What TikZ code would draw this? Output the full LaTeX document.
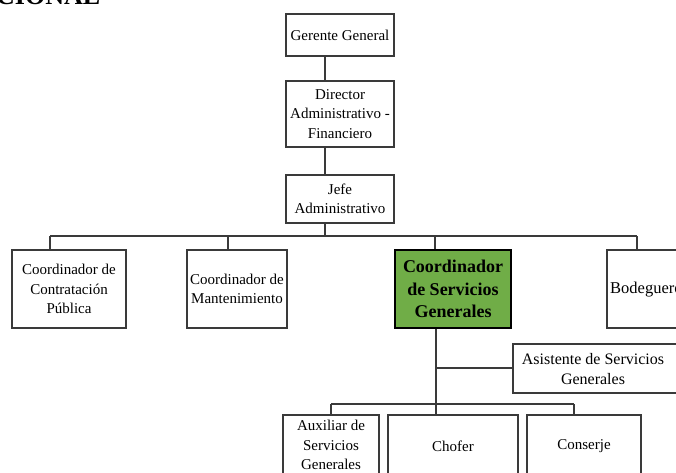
\documentclass[tikz,border=0pt]{standalone}
\usepackage{fontspec}
\setmainfont{Liberation Serif}
\definecolor{linegray}{HTML}{3A3A3A}
\definecolor{coordgreen}{HTML}{70AD47}
\tikzset{
  orgbox/.style={draw=linegray, line width=1.3pt, fill=white, inner sep=0pt,
    align=center, font=\fontsize{15}{19.5}\selectfont},
  keybox/.style={draw=black, line width=1.8pt, fill=coordgreen, inner sep=0pt,
    align=center, font=\fontsize{18}{22.5}\selectfont\bfseries},
  boxtext/.style={inner sep=0pt, align=center, font=\fontsize{15}{19.5}\selectfont},
  link/.style={draw=linegray, line width=1.3pt},
}
\begin{document}
\begin{tikzpicture}[x=1pt,y=1pt]
\useasboundingbox (0,0) rectangle (676,-472);

% heading, mostly above the page
\node[anchor=base west, inner sep=0pt, font=\fontsize{26}{30}\selectfont\bfseries] (hdr) at (-4,-4.5) {CIONAL};

% upper chain
\node[orgbox, minimum width=108, minimum height=42] (gg) at (340,-35) {Gerente General};
\node[orgbox, minimum width=108, minimum height=66] (dir) at (340,-114) {Director\\Administrativo -\\Financiero};
\node[orgbox, minimum width=108, minimum height=48] (jefe) at (340,-199) {Jefe\\Administrativo};

% coordinators
\node[orgbox, minimum width=114, minimum height=78] (c1) at (69,-289) {Coordinador de\\Contratación\\Pública};
\node[orgbox, minimum width=100, minimum height=78] (c2) at (237,-289) {Coordinador de\\Mantenimiento};
\node[keybox, minimum width=116, minimum height=78] (c3) at (453,-289) {Coordinador\\de Servicios\\Generales};
\node[orgbox, minimum width=93, minimum height=78] (bod) at (653.5,-289) {};
\node[boxtext, anchor=west, font=\fontsize{16.5}{20}\selectfont] (bodtxt) at (610,-290) {Bodeguero};

% assistant
\node[orgbox, minimum width=187, minimum height=49] (asis) at (606.5,-368.5) {};
\node[boxtext, font=\fontsize{16}{20}\selectfont] (asistxt) at (593,-369) {Asistente de Servicios\\Generales};

% bottom row
\node[orgbox, minimum width=96, minimum height=62] (aux) at (331,-446) {};
\node[boxtext] (auxtxt) at (331,-445) {Auxiliar de\\Servicios\\Generales};
\node[orgbox, minimum width=130, minimum height=62] (chof) at (453,-446) {Chofer};
\node[orgbox, minimum width=114, minimum height=62] (cons) at (584,-446) {Conserje};

% connector points
\coordinate (spine) at (325,0);
\coordinate (t1) at (50,-236);
\coordinate (t2) at (228,-236);
\coordinate (t3) at (435,-236);
\coordinate (t4) at (637,-236);
\coordinate (s2) at (436,-368);
\coordinate (b1) at (331,-404);
\coordinate (b3) at (574,-404);

% connectors
\draw[link] (gg.south -| spine) -- (dir.north -| spine);
\draw[link] (dir.south -| spine) -- (jefe.north -| spine);
\draw[link] (jefe.south -| spine) -- (spine |- t1);
\draw[link] (t1) -- (t4);
\draw[link] (t1) -- (t1 |- c1.north);
\draw[link] (t2) -- (t2 |- c2.north);
\draw[link] (t3) -- (t3 |- c3.north);
\draw[link] (t4) -- (t4 |- bod.north);
\draw[link] (c3.south -| s2) -- (s2 |- chof.north);
\draw[link] (s2) -- (s2 -| asis.west);
\draw[link] (b1) -- (b3);
\draw[link] (b1) -- (b1 |- aux.north);
\draw[link] (b3) -- (b3 |- cons.north);
\end{tikzpicture}
\end{document}
